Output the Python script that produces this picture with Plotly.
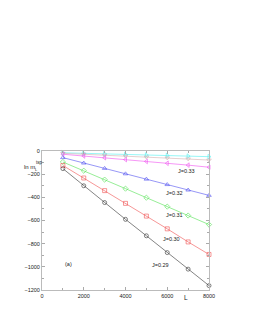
import plotly.graph_objects as go

L = [1000, 2000, 3000, 4000, 5000, 6000, 7000, 8000]
j029 = [-152, -300, -445, -590, -732, -877, -1020, -1162]
j030 = [-125, -233, -342, -452, -562, -672, -785, -893]
j031 = [-95, -170, -247, -325, -403, -480, -557, -635]
j032 = [-57, -104, -150, -197, -243, -290, -337, -383]
j033 = [-28, -43, -58, -74, -90, -106, -122, -140]
j034 = [-20, -28, -36, -44, -52, -60, -68, -78]
j035 = [-15, -20, -25, -30, -35, -39, -44, -49]

x_ticks = [0, 2000, 4000, 6000, 8000]
y_ticks = [0, -200, -400, -600, -800, -1000, -1200]
y_tick_text = ["0", "\u2212200", "\u2212400", "\u2212600", "\u2212800", "\u22121000", "\u22121200"]

series = [
    (j035, "#50f0f0", "triangle-right-open"),
    (j034, "#d0b0b0", "triangle-down-open"),
    (j033, "#f050f0", "triangle-left-open"),
    (j032, "#5050f0", "triangle-up-open"),
    (j031, "#50e050", "diamond-open"),
    (j030, "#f05050", "square-open"),
    (j029, "#303030", "circle-open"),
]

# body margin of the page is 8px, so the figure starts at (8, 8)
OFF = 8
W, H = 245, 319
ML, MR, MT, MB = 42 - OFF, W - (209 - OFF), 151 - OFF, H - (290 - OFF)

fig = go.Figure()
for vals, col, sym in series:
    fig.add_trace(go.Scatter(
        x=L, y=vals, mode="lines+markers",
        line=dict(color=col, width=0.6),
        marker=dict(symbol=sym, size=4, color=col, line=dict(color=col, width=0.6)),
        showlegend=False, cliponaxis=False,
    ))

labels = [
    ("J=0.33", 6898, -170),
    ("J=0.32", 6371, -363),
    ("J=0.31", 6347, -552),
    ("J=0.30", 6180, -760),
    ("J=0.29", 5700, -984),
    ("(a)", 1270, -975),
]
for t, x, y in labels:
    fig.add_annotation(x=x, y=y, text=t, showarrow=False, xref="x", yref="y",
                       font=dict(size=5.5, color="#222"))

def px_to_paper(px, py):
    px -= OFF
    py -= OFF
    return (px - ML) / (W - ML - MR), 1 - (py - MT) / (H - MT - MB)

for t, px, py, sz in [("ln m", 23, 163, 6), ("tsp", 35, 158.5, 4.5), ("L", 33.5, 166, 4),
                      ("L", 189, 302, 6.5)]:
    xp, yp = px_to_paper(px, py)
    fig.add_annotation(x=xp, y=yp, text=t, showarrow=False, xref="paper", yref="paper",
                       font=dict(size=sz, color="#222"), borderpad=0)

fig.update_layout(
    width=W, height=H,
    margin=dict(l=ML, r=MR, t=MT, b=MB),
    paper_bgcolor="white", plot_bgcolor="white",
    font=dict(family="Liberation Sans, Arial, sans-serif", size=5.5, color="#222"),
    xaxis=dict(range=[0, 8000], tickvals=x_ticks, ticks="inside", ticklen=3,
               tickcolor="#aaa", showgrid=False, zeroline=False, showline=True,
               linecolor="#bbb", linewidth=1, mirror="ticks",
               minor=dict(dtick=1000, ticks="inside", ticklen=2, tickcolor="#aaa")),
    yaxis=dict(range=[-1200, 0], tickvals=y_ticks, ticktext=y_tick_text, ticks="inside",
               ticklen=3, tickcolor="#aaa", showgrid=False, zeroline=False, showline=True,
               linecolor="#bbb", linewidth=1, mirror="ticks",
               minor=dict(dtick=100, ticks="inside", ticklen=2, tickcolor="#aaa")),
)

fig.write_html("out.html")
